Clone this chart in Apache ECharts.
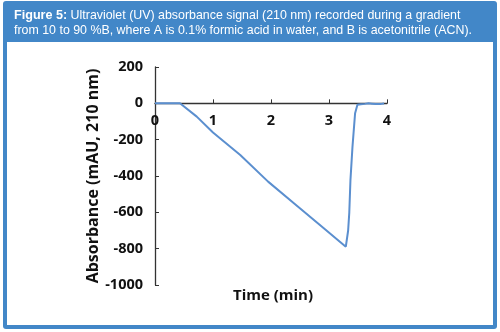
<!DOCTYPE html>
<html><head><meta charset="utf-8">
<script src="https://cdn.jsdelivr.net/npm/echarts@6/dist/echarts.min.js"></script>
<style>html,body{margin:0;padding:0;background:#fff}#c{width:500px;height:332px}</style>
</head><body><div id="c"></div>
<script>
const timeMin = [0, 0.2, 0.43, 0.72, 1.0, 1.47, 1.95, 2.4, 2.9, 3.29, 3.33, 3.35, 3.37, 3.405, 3.45, 3.49, 3.55, 3.62, 3.68, 3.71, 3.74, 3.8, 3.9, 3.95];
const absorbance = [0, 0, 0, -73, -161, -284, -431, -551, -685, -789, -700, -600, -421, -238, -54, -8, -5, -3, 0, 8, -2, -4, -3, -1];
const yTicks = { min: -1000, max: 200, interval: 200 };
const xTicks = { min: 0, max: 4, interval: 1 };
const headerLine1 = 'Ultraviolet (UV) absorbance signal (210 nm) recorded during a gradient';
const headerLine2 = 'from 10 to 90 %B, where A is 0.1% formic acid in water, and B is acetonitrile (ACN).';

const chart = echarts.init(document.getElementById('c'));
const blue = '#4287c8';
const gridTop = 67, gridBottom = 47, H = 332;
const plotH = H - gridTop - gridBottom;
const zeroOffset = -(plotH * (0 - yTicks.min) / (yTicks.max - yTicks.min));
const lblFont = { color: '#111', fontSize: 14.5, fontWeight: 'bold', fontFamily: '"Open Sans", sans-serif' };
chart.setOption({
  animation: false,
  backgroundColor: '#fff',
  graphic: [
    { type: 'rect', z: -10, shape: { x: 3, y: 1, width: 494, height: 328, r: 3 }, style: { fill: blue } },
    { type: 'rect', z: -9, shape: { x: 7, y: 42, width: 486, height: 283 }, style: { fill: '#fff' } },
    { type: 'text', left: 14, top: 9, style: { text: '{b|Figure 5:} ' + headerLine1, fill: '#fff', font: '12.4px "Liberation Sans", Arial, sans-serif',
        rich: { b: { fontWeight: 'bold', fill: '#fff', fontSize: 12.6, fontFamily: '"Liberation Sans", Arial, sans-serif' } } } },
    { type: 'text', left: 14, top: 25, style: { text: headerLine2, fill: '#fff', font: '12.4px "Liberation Sans", Arial, sans-serif' } },
    { type: 'text', x: 273, y: 296, style: { text: 'Time (min)', fill: '#111', font: 'bold 15px "Open Sans", sans-serif', align: 'center', verticalAlign: 'middle' } }
  ],
  grid: { left: 155, right: 113, top: gridTop, bottom: gridBottom },
  xAxis: [{
    type: 'value', min: xTicks.min, max: xTicks.max, interval: xTicks.interval,
    axisLine: { onZero: true, lineStyle: { color: '#333', width: 1.3 } },
    axisTick: { inside: true, length: 4, lineStyle: { color: '#333' } },
    axisLabel: { show: false },
    splitLine: { show: false }
  }, {
    type: 'value', position: 'bottom', offset: zeroOffset,
    min: xTicks.min, max: xTicks.max, interval: xTicks.interval,
    axisLine: { show: false }, axisTick: { show: false },
    axisLabel: Object.assign({ margin: 10 }, lblFont),
    splitLine: { show: false }
  }],
  yAxis: {
    type: 'value', min: yTicks.min, max: yTicks.max, interval: yTicks.interval,
    name: 'Absorbance (mAU, 210 nm)', nameLocation: 'middle', nameGap: 42,
    nameTextStyle: Object.assign({}, lblFont, { fontSize: 16 }),
    axisLine: { show: true, lineStyle: { color: '#333', width: 1.3 } },
    axisTick: { show: true, inside: true, length: 4, lineStyle: { color: '#333' } },
    axisLabel: Object.assign({ margin: 12, formatter: v => String(v) }, lblFont),
    splitLine: { show: false }
  },
  series: [{
    type: 'line', xAxisIndex: 0, data: timeMin.map((t, i) => [t, absorbance[i]]),
    showSymbol: false, lineStyle: { color: '#5b8fcf', width: 2 }, z: 3
  }]
});
</script></body></html>
